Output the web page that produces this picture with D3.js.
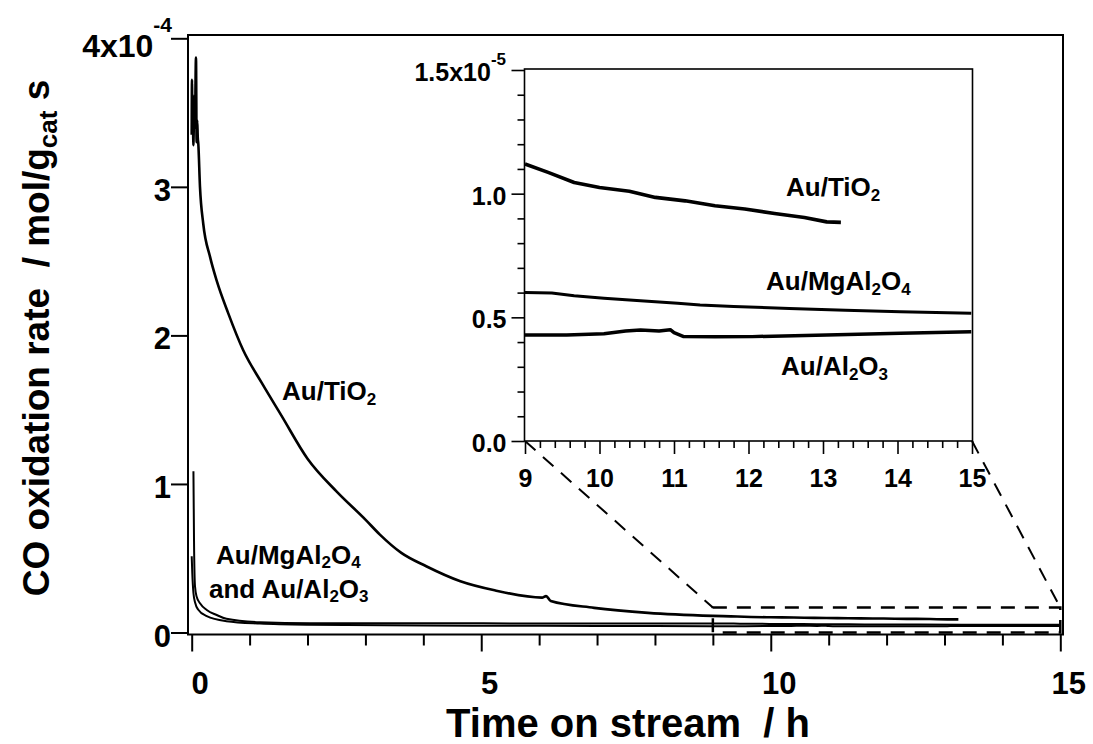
<!DOCTYPE html>
<html><head><meta charset="utf-8">
<script src="https://cdn.jsdelivr.net/npm/d3@7"></script>
<style>
body{margin:0;background:#fff}
svg{display:block}
text{font-family:"Liberation Sans",Arial,Helvetica,sans-serif;font-weight:bold;fill:#000}
</style>
</head><body>
<svg id="c" width="1093" height="744"></svg>
<script>
// ---------- DATA ----------
// Main panel: time on stream (h), rate in units of 1e-4 mol/(g_cat s)
const tio2Time = [0, 0.005, 0.012, 0.02, 0.028, 0.04, 0.055, 0.074, 0.085, 0.095, 0.105, 0.114, 0.143, 0.2, 0.316, 0.43, 0.63, 0.89, 1.21, 1.55, 2.0, 2.5, 3.0, 3.25, 3.62, 4.05, 4.64, 5.23, 6.05, 6.12, 6.2, 6.95, 7.88];
const tio2Rate = [3.35, 3.72, 3.38, 3.62, 3.28, 3.45, 3.40, 3.87, 3.30, 3.45, 3.33, 3.29, 3.0, 2.75, 2.53, 2.37, 2.15, 1.90, 1.68, 1.46, 1.17, 0.95, 0.76, 0.659, 0.536, 0.446, 0.345, 0.284, 0.235, 0.245, 0.212, 0.166, 0.132];

const mgalTime = [0.03, 0.04, 0.057, 0.086, 0.143, 0.26, 0.43, 0.6, 1.18, 2.04, 4.0, 6.0, 8.0];
const mgalRate = [1.085, 0.62, 0.31, 0.24, 0.197, 0.152, 0.118, 0.092, 0.069, 0.062, 0.062, 0.061, 0.060];

const alTime = [0, 0.01, 0.03, 0.06, 0.11, 0.26, 0.6, 1.18, 2.0, 4.0, 6.0, 8.0];
const alRate = [0.513, 0.40, 0.266, 0.20, 0.155, 0.11, 0.076, 0.060, 0.052, 0.047, 0.045, 0.044];

// Inset panel: time (h), rate in units of 1e-5 mol/(g_cat s)
const insetTio2Time = [9.0, 9.31, 9.66, 10.0, 10.4, 10.75, 11.15, 11.55, 11.95, 12.35, 12.75, 13.05, 13.24];
const insetTio2Rate = [1.12, 1.086, 1.045, 1.025, 1.01, 0.985, 0.971, 0.951, 0.938, 0.92, 0.904, 0.886, 0.884];

const insetMgalTime = [9.0, 9.36, 9.66, 10.06, 10.55, 11.05, 11.35, 11.8, 12.55, 13.3, 14.04, 14.99];
const insetMgalRate = [0.600, 0.598, 0.587, 0.577, 0.567, 0.557, 0.550, 0.544, 0.536, 0.529, 0.523, 0.517];

const insetAlTime = [9.0, 9.56, 10.06, 10.35, 10.55, 10.8, 10.95, 11.0, 11.13, 11.55, 12.05, 13.05, 14.04, 14.99];
const insetAlRate = [0.429, 0.429, 0.434, 0.445, 0.449, 0.445, 0.450, 0.438, 0.422, 0.421, 0.422, 0.429, 0.436, 0.442];

// Axis ticks
const mainXTicks = [0, 5, 10, 15];
const mainXMinor = [1, 2, 3, 4, 6, 7, 8, 9, 11, 12, 13, 14];
const mainYTicks = [0, 1, 2, 3, 4];
const insetXTicks = [9, 10, 11, 12, 13, 14, 15];
const insetYTicks = [0, 0.5, 1.0, 1.5];
const insetYLabels = ["0.0", "0.5", "1.0", "1.5x10"];
// Zoomed region shown in inset (main units: h, 1e-4)
const zoomTime = [9, 15];
const zoomRate = [0, 0.168];

// ---------- DRAW ----------
const svg = d3.select("#c");
const x = d3.scaleLinear([0, 15], [191.7, 1060.3]);
const y = d3.scaleLinear([0, 4], [632.5, 38.3]);
const xi = d3.scaleLinear([9, 15], [525, 972]);
const yi = d3.scaleLinear([0, 1.5], [441, 70]);

const zip = (t, v, f) => t.map((d, i) => [d, v[i] * (f || 1)]);
const lineSmooth = d3.line().x(d => x(d[0])).y(d => y(d[1])).curve(d3.curveMonotoneX);
const linei = d3.line().x(d => xi(d[0])).y(d => yi(d[1]));

function dropEmpty(g) {
  g.selectAll("text").filter(function () { return !this.textContent; }).remove();
}

// main frame
svg.append("rect").attr("x", 188).attr("y", 35).attr("width", 875).attr("height", 599.5)
  .attr("fill", "none").attr("stroke", "#000").attr("stroke-width", 2);

// main x axis
const gx = svg.append("g").attr("transform", "translate(0,634.5)");
gx.call(d3.axisBottom(x).tickValues(mainXTicks).tickSize(17).tickFormat(d3.format("d")));
gx.append("g").call(d3.axisBottom(x).tickValues(mainXMinor).tickSize(11).tickFormat(""));
gx.selectAll(".domain").remove();
dropEmpty(gx);
gx.selectAll("line").attr("stroke", "#000").attr("stroke-width", 2);
gx.selectAll("text").attr("font-size", 31).attr("dx", 8).attr("dy", 0).attr("y", 59).attr("fill", "#000");

// main y axis
const gy = svg.append("g").attr("transform", "translate(188,0)");
gy.call(d3.axisLeft(y).tickValues(mainYTicks).tickSize(17).tickPadding(0).tickFormat(d => d === 4 ? "" : d3.format("d")(d)));
gy.selectAll(".domain").remove();
dropEmpty(gy);
gy.selectAll("line").attr("stroke", "#000").attr("stroke-width", 2);
gy.selectAll("text").attr("font-size", 31).attr("dy", 13.5).attr("fill", "#000");
// top label with exponent
const t4 = svg.append("text").attr("x", 172).attr("y", 57).attr("text-anchor", "end").attr("font-size", 32);
t4.append("tspan").text("4x10");
t4.append("tspan").attr("font-size", 21).attr("dy", -25).text("-4");

// main curves
const tio2Main = zip(tio2Time, tio2Rate).concat(zip(insetTio2Time, insetTio2Rate, 0.1));
const mgalMain = zip(mgalTime, mgalRate).concat(zip(insetMgalTime, insetMgalRate, 0.1));
const alMain = zip(alTime, alRate).concat(zip(insetAlTime, insetAlRate, 0.1));
svg.append("path").attr("d", lineSmooth(alMain)).attr("fill", "none").attr("stroke", "#000").attr("stroke-width", 2);
svg.append("path").attr("d", lineSmooth(mgalMain)).attr("fill", "none").attr("stroke", "#000").attr("stroke-width", 2);
svg.append("path").attr("d", lineSmooth(tio2Main)).attr("fill", "none").attr("stroke", "#000").attr("stroke-width", 2.6).attr("stroke-linejoin", "round");

// dashed zoom box and connectors
const dash = "14,10";
svg.append("rect").attr("x", x(zoomTime[0])).attr("y", y(zoomRate[1]))
  .attr("width", x(zoomTime[1]) - x(zoomTime[0])).attr("height", y(zoomRate[0]) - y(zoomRate[1]))
  .attr("fill", "none").attr("stroke", "#000").attr("stroke-width", 2.5).attr("stroke-dasharray", dash);
svg.append("line").attr("x1", xi(9)).attr("y1", yi(0)).attr("x2", x(zoomTime[0])).attr("y2", y(zoomRate[1]))
  .attr("stroke", "#000").attr("stroke-width", 2).attr("stroke-dasharray", dash);
svg.append("line").attr("x1", xi(15)).attr("y1", yi(0)).attr("x2", x(zoomTime[1])).attr("y2", y(zoomRate[1]))
  .attr("stroke", "#000").attr("stroke-width", 2).attr("stroke-dasharray", dash);

// inset frame
svg.append("rect").attr("x", 524.5).attr("y", 69).attr("width", 448).attr("height", 372)
  .attr("fill", "#fff").attr("stroke", "#000").attr("stroke-width", 1.6);

// inset axes
const gxi = svg.append("g").attr("transform", "translate(0,441)");
gxi.call(d3.axisBottom(xi).tickValues(insetXTicks).tickSize(13).tickFormat(d3.format("d")));
gxi.append("g").call(d3.axisBottom(xi).tickValues(d3.range(9, 15.001, 0.2).filter(v => Math.abs(v - Math.round(v)) > 0.01)).tickSize(7).tickFormat(""));
gxi.selectAll(".domain").remove();
dropEmpty(gxi);
gxi.selectAll("line").attr("stroke", "#000").attr("stroke-width", 1.6);
gxi.selectAll("text").attr("font-size", 25).attr("y", 46).attr("dy", 0).attr("fill", "#000");

const gyi = svg.append("g").attr("transform", "translate(524.5,0)");
gyi.call(d3.axisLeft(yi).tickValues(insetYTicks).tickSize(13).tickPadding(5).tickFormat((d, i) => i === 3 ? "" : insetYLabels[i]));
gyi.append("g").call(d3.axisLeft(yi).tickValues(d3.range(0, 1.5001, 0.1).filter(v => Math.abs(v * 2 - Math.round(v * 2)) > 0.01)).tickSize(7).tickFormat(""));
gyi.selectAll(".domain").remove();
dropEmpty(gyi);
gyi.selectAll("line").attr("stroke", "#000").attr("stroke-width", 1.6);
gyi.selectAll("text").attr("font-size", 25).attr("dy", 10.5).attr("fill", "#000");
const t15 = svg.append("text").attr("x", 506).attr("y", yi(1.5) + 11).attr("text-anchor", "end").attr("font-size", 25);
t15.append("tspan").text(insetYLabels[3]);
t15.append("tspan").attr("font-size", 17).attr("dy", -16).text("-5");

// inset curves
const insetSeries = [[insetTio2Time, insetTio2Rate, 3.6], [insetMgalTime, insetMgalRate, 3], [insetAlTime, insetAlRate, 3.5]];
insetSeries.forEach(s => {
  svg.append("path").attr("d", linei(zip(s[0], s[1]))).attr("fill", "none").attr("stroke", "#000")
    .attr("stroke-width", s[2]).attr("stroke-linejoin", "round");
});

// labels with lowered digits: "_" marks a lowered character; lines = [[x, y, str], ...]
function chem(lines, size, drop) {
  const t = svg.append("text").attr("font-size", size);
  lines.forEach(([xp, yp, str]) => {
    const pieces = str.split(/(_.)/).filter(p => p);
    let lowered = false, first = true;
    pieces.forEach(p => {
      let ts;
      if (p[0] === "_") {
        ts = t.append("tspan").attr("font-size", Math.round(size * 0.66)).attr("dy", drop).text(p[1]);
        lowered = true;
      } else {
        ts = t.append("tspan").text(p);
        if (lowered) { ts.attr("dy", -drop); lowered = false; }
      }
      if (first) { ts.attr("x", xp).attr("y", yp).attr("dy", null); first = false; }
    });
  });
  return t;
}
chem([[282, 400, "Au/TiO_2"]], 26, 5);
chem([[216, 564, "Au/MgAl_2O_4"]], 26, 4);
chem([[209, 598, "and Au/Al_2O_3"]], 26, 4);
chem([[786, 196, "Au/TiO_2"]], 26, 5);
chem([[766, 290, "Au/MgAl_2O_4"]], 26, 5);
chem([[781, 375, "Au/Al_2O_3"]], 26, 5);

// axis titles
svg.append("text").attr("x", 628).attr("y", 737).attr("text-anchor", "middle").attr("font-size", 40)
  .style("white-space", "pre").text("Time on stream  / h");
const yt = svg.append("text").attr("transform", "translate(49,338) rotate(-90)").attr("text-anchor", "middle")
  .attr("font-size", 37).style("white-space", "pre");
yt.append("tspan").text("CO oxidation rate  / mol/g");
yt.append("tspan").attr("font-size", 26).attr("dy", 8).text("cat");
yt.append("tspan").attr("dy", -8).text(" s");
</script>
</body></html>
